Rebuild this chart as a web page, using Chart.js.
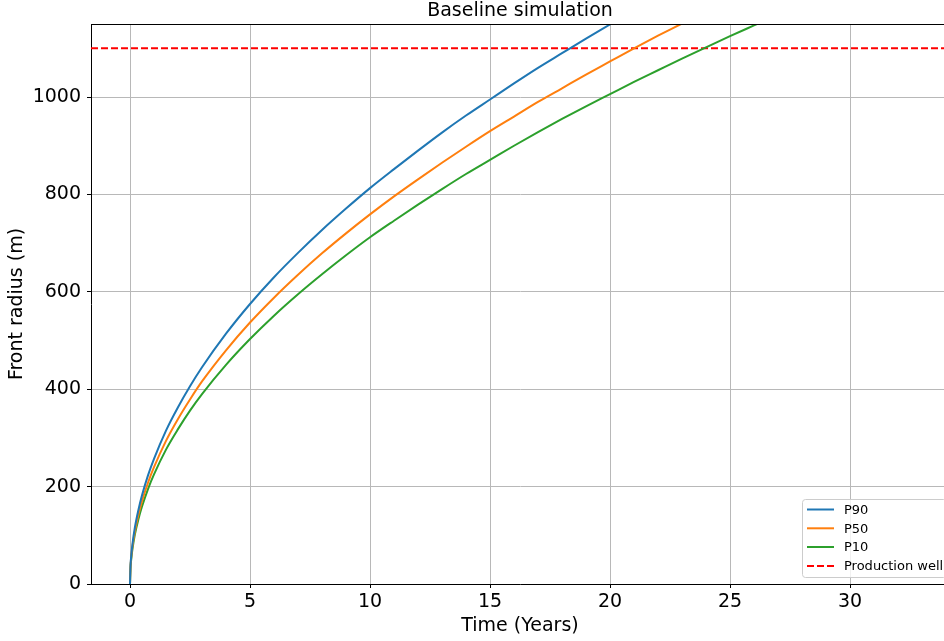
<!DOCTYPE html>
<html>
<head>
<meta charset="utf-8">
<script src="https://cdn.jsdelivr.net/npm/chart.js@4.4.1/dist/chart.umd.min.js"></script>
<style>
  html, body { margin: 0; padding: 0; background: #fff; overflow: hidden; }
  #wrap { width: 944px; height: 641px; overflow: hidden; position: relative; }
  canvas { display: block; }
</style>
</head>
<body>
<div id="wrap"><canvas id="chart" width="950" height="641"></canvas></div>
<script>
// Time since injection start (years)
const years = [0, 0.02, 0.05, 0.1, 0.2, 0.35, 0.5, 0.75, 1, 1.5, 2, 2.5, 3, 4, 5, 6, 7, 8, 9, 10,
               11, 12, 13, 14, 15, 16, 17, 18, 19, 20, 21, 22, 23, 24, 25, 26, 27];

// Front radius (m) for each percentile case
const p90 = [0, 36, 57, 81, 115, 152, 182, 223, 257, 315, 363, 406, 445, 514, 575, 630, 680, 727, 771, 813,
             852, 890, 927, 962, 995, 1028, 1060, 1090, 1120, 1149, 1178];
const p50 = [0, 34, 54, 76, 107, 142, 170, 208, 240, 294, 339, 379, 416, 480, 537, 588, 635, 679, 720, 759,
             796, 831, 865, 898, 930, 960, 990, 1018, 1046, 1073, 1100, 1126, 1151, 1176];
const p10 = [0, 32, 50, 71, 101, 133, 159, 195, 225, 276, 318, 356, 390, 450, 503, 551, 595, 636, 675, 712,
             746, 779, 811, 842, 871, 900, 928, 955, 981, 1006, 1031, 1055, 1079, 1102, 1125, 1147, 1169];

// Distance to the production well (m)
const productionWellRadius = 1100;

// Axis limits and tick labels
const xMin = -1.625, xMax = 34.125;
const yMin = 0, yMax = 1150;
const xTicks = [0, 5, 10, 15, 20, 25, 30];
const yTicks = [0, 200, 400, 600, 800, 1000];

const toPoints = vals => vals.map((v, i) => ({ x: years[i], y: v }));

Chart.defaults.font.family = "'DejaVu Sans', sans-serif";
Chart.defaults.color = '#000';

const FONT = 19;

// Title centred over the axes, top spine and an in-plot legend box
const decorations = {
  id: 'decorations',
  afterDraw(chart) {
    const { ctx, chartArea: a } = chart;
    ctx.save();
    // top spine
    ctx.strokeStyle = '#000';
    ctx.lineWidth = 1;
    ctx.beginPath();
    ctx.moveTo(a.left, a.top + 0.5);
    ctx.lineTo(a.right, a.top + 0.5);
    ctx.stroke();

    // title
    ctx.fillStyle = '#000';
    ctx.font = FONT + "px 'DejaVu Sans'";
    ctx.textAlign = 'center';
    ctx.textBaseline = 'middle';
    ctx.fillText('Baseline simulation', (a.left + a.right) / 2, 11);

    // legend
    const bx = 802.5, by = 499.5, bw = 144, bh = 78, r = 3;
    ctx.beginPath();
    ctx.moveTo(bx + r, by);
    ctx.lineTo(bx + bw - r, by);
    ctx.arcTo(bx + bw, by, bx + bw, by + r, r);
    ctx.lineTo(bx + bw, by + bh - r);
    ctx.arcTo(bx + bw, by + bh, bx + bw - r, by + bh, r);
    ctx.lineTo(bx + r, by + bh);
    ctx.arcTo(bx, by + bh, bx, by + bh - r, r);
    ctx.lineTo(bx, by + r);
    ctx.arcTo(bx, by, bx + r, by, r);
    ctx.closePath();
    ctx.fillStyle = 'rgba(255,255,255,0.8)';
    ctx.fill();
    ctx.strokeStyle = '#cccccc';
    ctx.lineWidth = 1;
    ctx.stroke();

    ctx.font = "13px 'DejaVu Sans'";
    ctx.textAlign = 'left';
    ctx.textBaseline = 'middle';
    const rowY = [509.5, 528.3, 547, 566];
    chart.data.datasets.forEach((ds, i) => {
      const y = rowY[i];
      ctx.strokeStyle = ds.borderColor;
      ctx.lineWidth = ds.borderWidth;
      ctx.setLineDash(ds.borderDash || []);
      ctx.beginPath();
      ctx.moveTo(807, y);
      ctx.lineTo(834, y);
      ctx.stroke();
      ctx.setLineDash([]);
      ctx.fillStyle = '#000';
      ctx.fillText(ds.label, 844, y + 1);
    });
    ctx.restore();
  }
};

new Chart(document.getElementById('chart'), {
  type: 'line',
  data: {
    datasets: [
      { label: 'P90', data: toPoints(p90), borderColor: '#1f77b4', borderWidth: 2,
        pointRadius: 0, cubicInterpolationMode: 'monotone', fill: false },
      { label: 'P50', data: toPoints(p50), borderColor: '#ff7f0e', borderWidth: 2,
        pointRadius: 0, cubicInterpolationMode: 'monotone', fill: false },
      { label: 'P10', data: toPoints(p10), borderColor: '#2ca02c', borderWidth: 2,
        pointRadius: 0, cubicInterpolationMode: 'monotone', fill: false },
      { label: 'Production well',
        data: [{ x: xMin, y: productionWellRadius }, { x: xMax, y: productionWellRadius }],
        borderColor: '#ff0000', borderWidth: 2, borderDash: [7, 3],
        pointRadius: 0, fill: false }
    ]
  },
  options: {
    responsive: false,
    animation: false,
    devicePixelRatio: 1,
    layout: { padding: { top: 24, right: 1, left: 0, bottom: 0 } },
    plugins: {
      legend: { display: false },
      title: { display: false },
      tooltip: { enabled: false }
    },
    scales: {
      x: {
        type: 'linear',
        min: xMin, max: xMax,
        afterBuildTicks: s => { s.ticks = xTicks.map(v => ({ value: v })); },
        afterFit: s => { s.height = 57; },
        grid: { color: '#b8b8b8', lineWidth: 1, tickColor: '#000', tickLength: 4 },
        border: { color: '#000', width: 1 },
        ticks: { font: { size: FONT }, padding: 3, maxRotation: 0, autoSkip: false,
                 callback: v => String(v) },
        title: { display: true, text: 'Time (Years)', font: { size: FONT },
                 padding: { top: 0, bottom: 4 } }
      },
      y: {
        type: 'linear',
        min: yMin, max: yMax,
        afterBuildTicks: s => { s.ticks = yTicks.map(v => ({ value: v })); },
        afterFit: s => { s.width = 91; },
        grid: { color: '#b8b8b8', lineWidth: 1, tickColor: '#000', tickLength: 4 },
        border: { color: '#000', width: 1 },
        ticks: { font: { size: FONT }, padding: 6, autoSkip: false,
                 callback: v => String(v) },
        title: { display: true, text: 'Front radius (m)', font: { size: FONT },
                 padding: { top: 6, bottom: 0 } }
      }
    }
  },
  plugins: [decorations]
});
</script>
</body>
</html>
